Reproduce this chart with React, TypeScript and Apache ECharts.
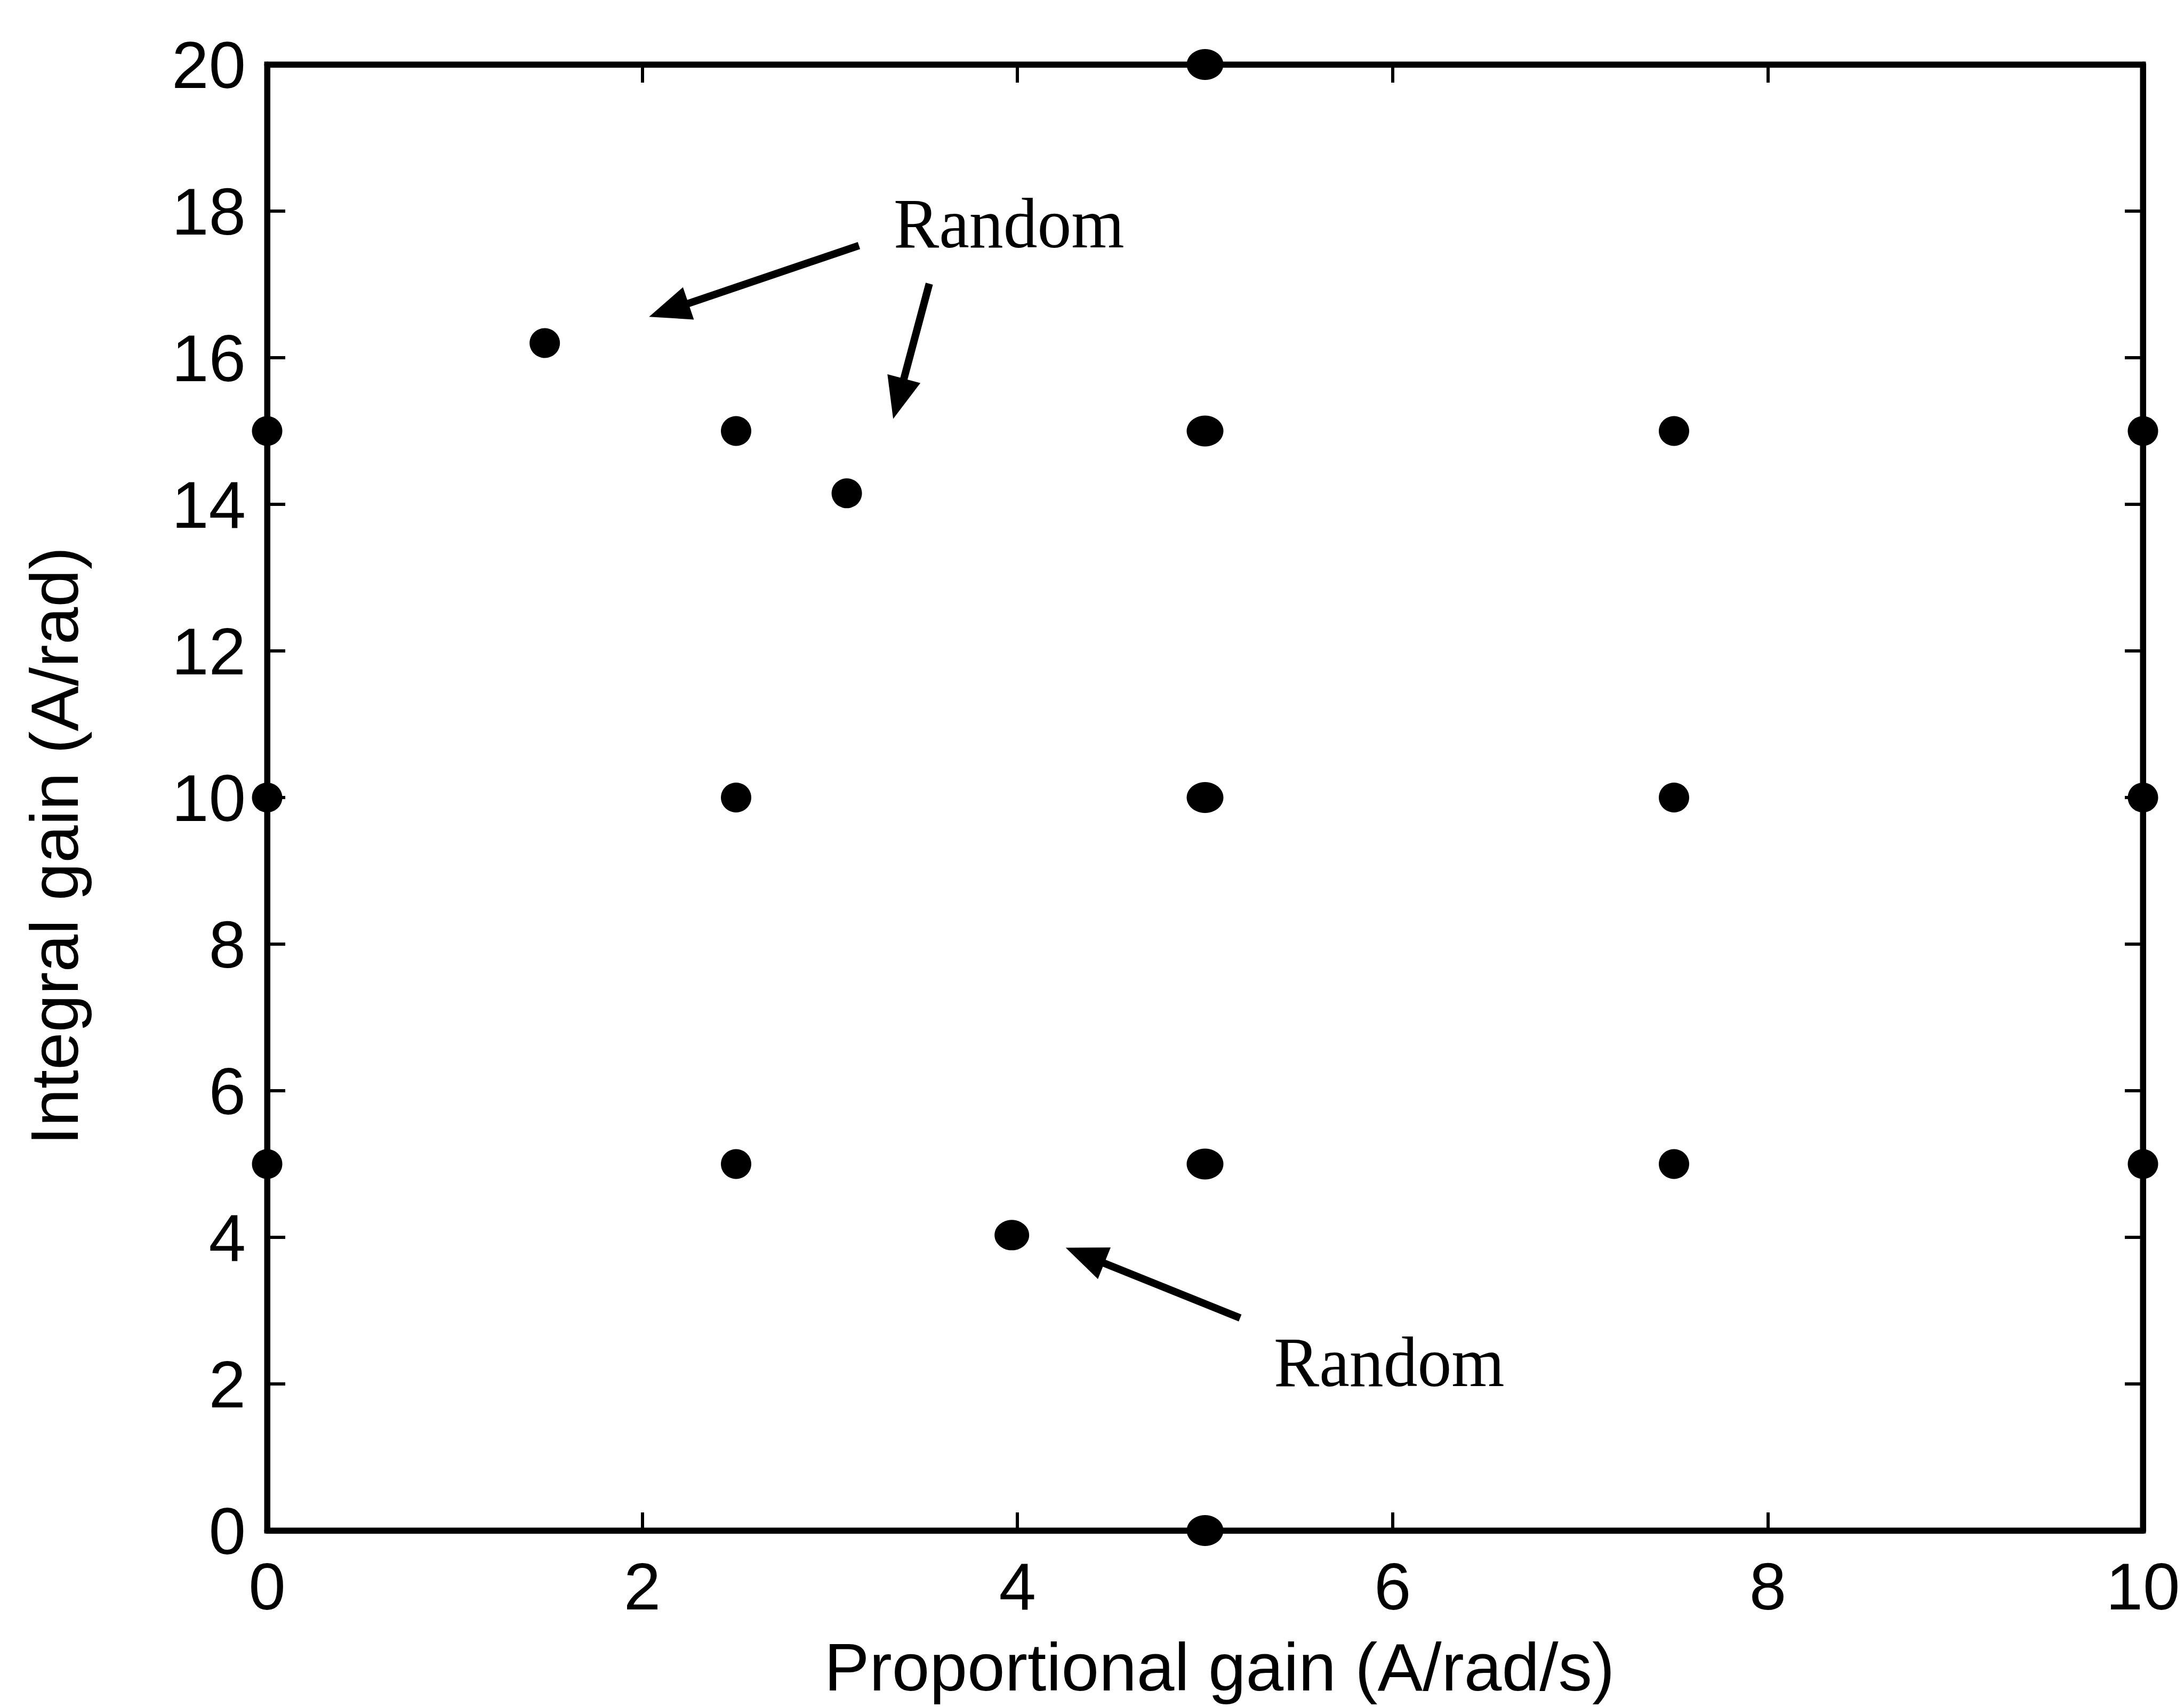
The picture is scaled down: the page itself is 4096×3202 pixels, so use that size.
import React, { useEffect, useRef } from "react";
import * as echarts from "echarts";

// Regular grid of (proportional gain, integral gain) test points
const gridKp = [0, 0, 0, 2.5, 2.5, 2.5, 5, 5, 5, 5, 5, 7.5, 7.5, 7.5, 10, 10, 10];
const gridKi = [15, 10, 5, 15, 10, 5, 20, 15, 10, 5, 0, 15, 10, 5, 15, 10, 5];
// Randomly selected points
const randomKp = [1.48, 3.09, 3.97];
const randomKi = [16.2, 14.15, 4.03];

const xTitle = "Proportional gain (A/rad/s)";
const yTitle = "Integral gain (A/rad)";
const annotationText = ["Random", "Random"];

// Arrow annotations in data coordinates (tail -> arrow-head centre)
const arrowTails = [
  [3.155, 17.53],
  [3.53, 17.01],
  [5.187, 2.9],
];
const arrowHeads = [
  [2.141, 16.65],
  [3.366, 15.44],
  [4.36, 3.753],
];

export default function App() {
  const ref = useRef<HTMLDivElement>(null);
  useEffect(() => {
    if (!ref.current) return;
    const chart = echarts.init(ref.current, null, { renderer: "svg" });
    const black = "#000";
    const sans = "'Liberation Sans', Arial, sans-serif";
    const serif = "'Liberation Serif', 'Times New Roman', serif";
    const axisCommon = (show: boolean) => ({
      type: "value" as const,
      axisLine: { show: true, onZero: false, lineStyle: { color: black, width: 11 } },
      axisTick: { show: true, inside: true, length: 34, lineStyle: { color: black, width: 6 } },
      axisLabel: {
        show,
        color: black,
        fontSize: 125,
        fontFamily: sans,
      },
      splitLine: { show: false },
    });
    const gridData = gridKp.map((x, i) => [x, gridKi[i]]);
    const randomData = randomKp.map((x, i) => [x, randomKi[i]]);
    chart.setOption({
      animation: false,
      backgroundColor: "#fff",
      grid: {
        left: 501,
        right: 77,
        top: 121,
        bottom: 331,
        show: true,
        borderColor: black,
        borderWidth: 11,
        backgroundColor: "transparent",
      },
      xAxis: [
        {
          ...axisCommon(true),
          position: "bottom",
          min: 0,
          max: 10,
          interval: 2,
          axisLabel: { ...axisCommon(true).axisLabel, margin: 42 },
        },
        { ...axisCommon(false), position: "top", min: 0, max: 10, interval: 2 },
      ],
      yAxis: [
        {
          ...axisCommon(true),
          position: "left",
          min: 0,
          max: 20,
          interval: 2,
          axisLabel: { ...axisCommon(true).axisLabel, margin: 40 },
        },
        { ...axisCommon(false), position: "right", min: 0, max: 20, interval: 2 },
      ],
      series: [
        {
          type: "scatter",
          data: gridData,
          symbol: "circle",
          symbolSize: (v: number[]) => (v[0] === 5 ? [69, 58] : [57, 56]),
          itemStyle: { color: black, opacity: 1 },
          silent: true,
          clip: false,
          z: 5,
        },
        {
          type: "scatter",
          data: randomData,
          symbol: "circle",
          symbolSize: (v: number[]) => (v[0] > 3.5 ? [65, 57] : [57, 56]),
          itemStyle: { color: black, opacity: 1 },
          silent: true,
          clip: false,
          z: 5,
          markLine: {
            silent: true,
            animation: false,
            label: { show: false },
            emphasis: { disabled: true },
            lineStyle: { type: "solid", color: black, width: 14, opacity: 1 },
            data: arrowTails.map((t, i) => [
              { coord: t, symbol: "none" },
              { coord: arrowHeads[i], symbol: "triangle", symbolSize: [64, 78] },
            ]),
          },
        },
      ],
      graphic: [
        {
          type: "text",
          x: 2287,
          y: 3127,
          silent: true,
          style: {
            text: xTitle,
            fontSize: 127,
            fontFamily: sans,
            fill: black,
            align: "center",
            verticalAlign: "middle",
          },
        },
        {
          type: "text",
          x: 102,
          y: 1587,
          rotation: Math.PI / 2,
          silent: true,
          style: {
            text: yTitle,
            fontSize: 127,
            fontFamily: sans,
            fill: black,
            align: "center",
            verticalAlign: "middle",
          },
        },
        {
          type: "text",
          x: 1676,
          y: 419,
          scaleX: 0.96,
          silent: true,
          style: {
            text: annotationText[0],
            fontSize: 133,
            fontFamily: serif,
            fill: black,
            align: "left",
            verticalAlign: "middle",
          },
        },
        {
          type: "text",
          x: 2389,
          y: 2555,
          scaleX: 0.96,
          silent: true,
          style: {
            text: annotationText[1],
            fontSize: 133,
            fontFamily: serif,
            fill: black,
            align: "left",
            verticalAlign: "middle",
          },
        },
      ],
    });
    return () => chart.dispose();
  }, []);
  return (
    <div
      ref={ref}
      style={{ position: "absolute", left: 0, top: 0, width: 4096, height: 3202, background: "#fff" }}
    />
  );
}
